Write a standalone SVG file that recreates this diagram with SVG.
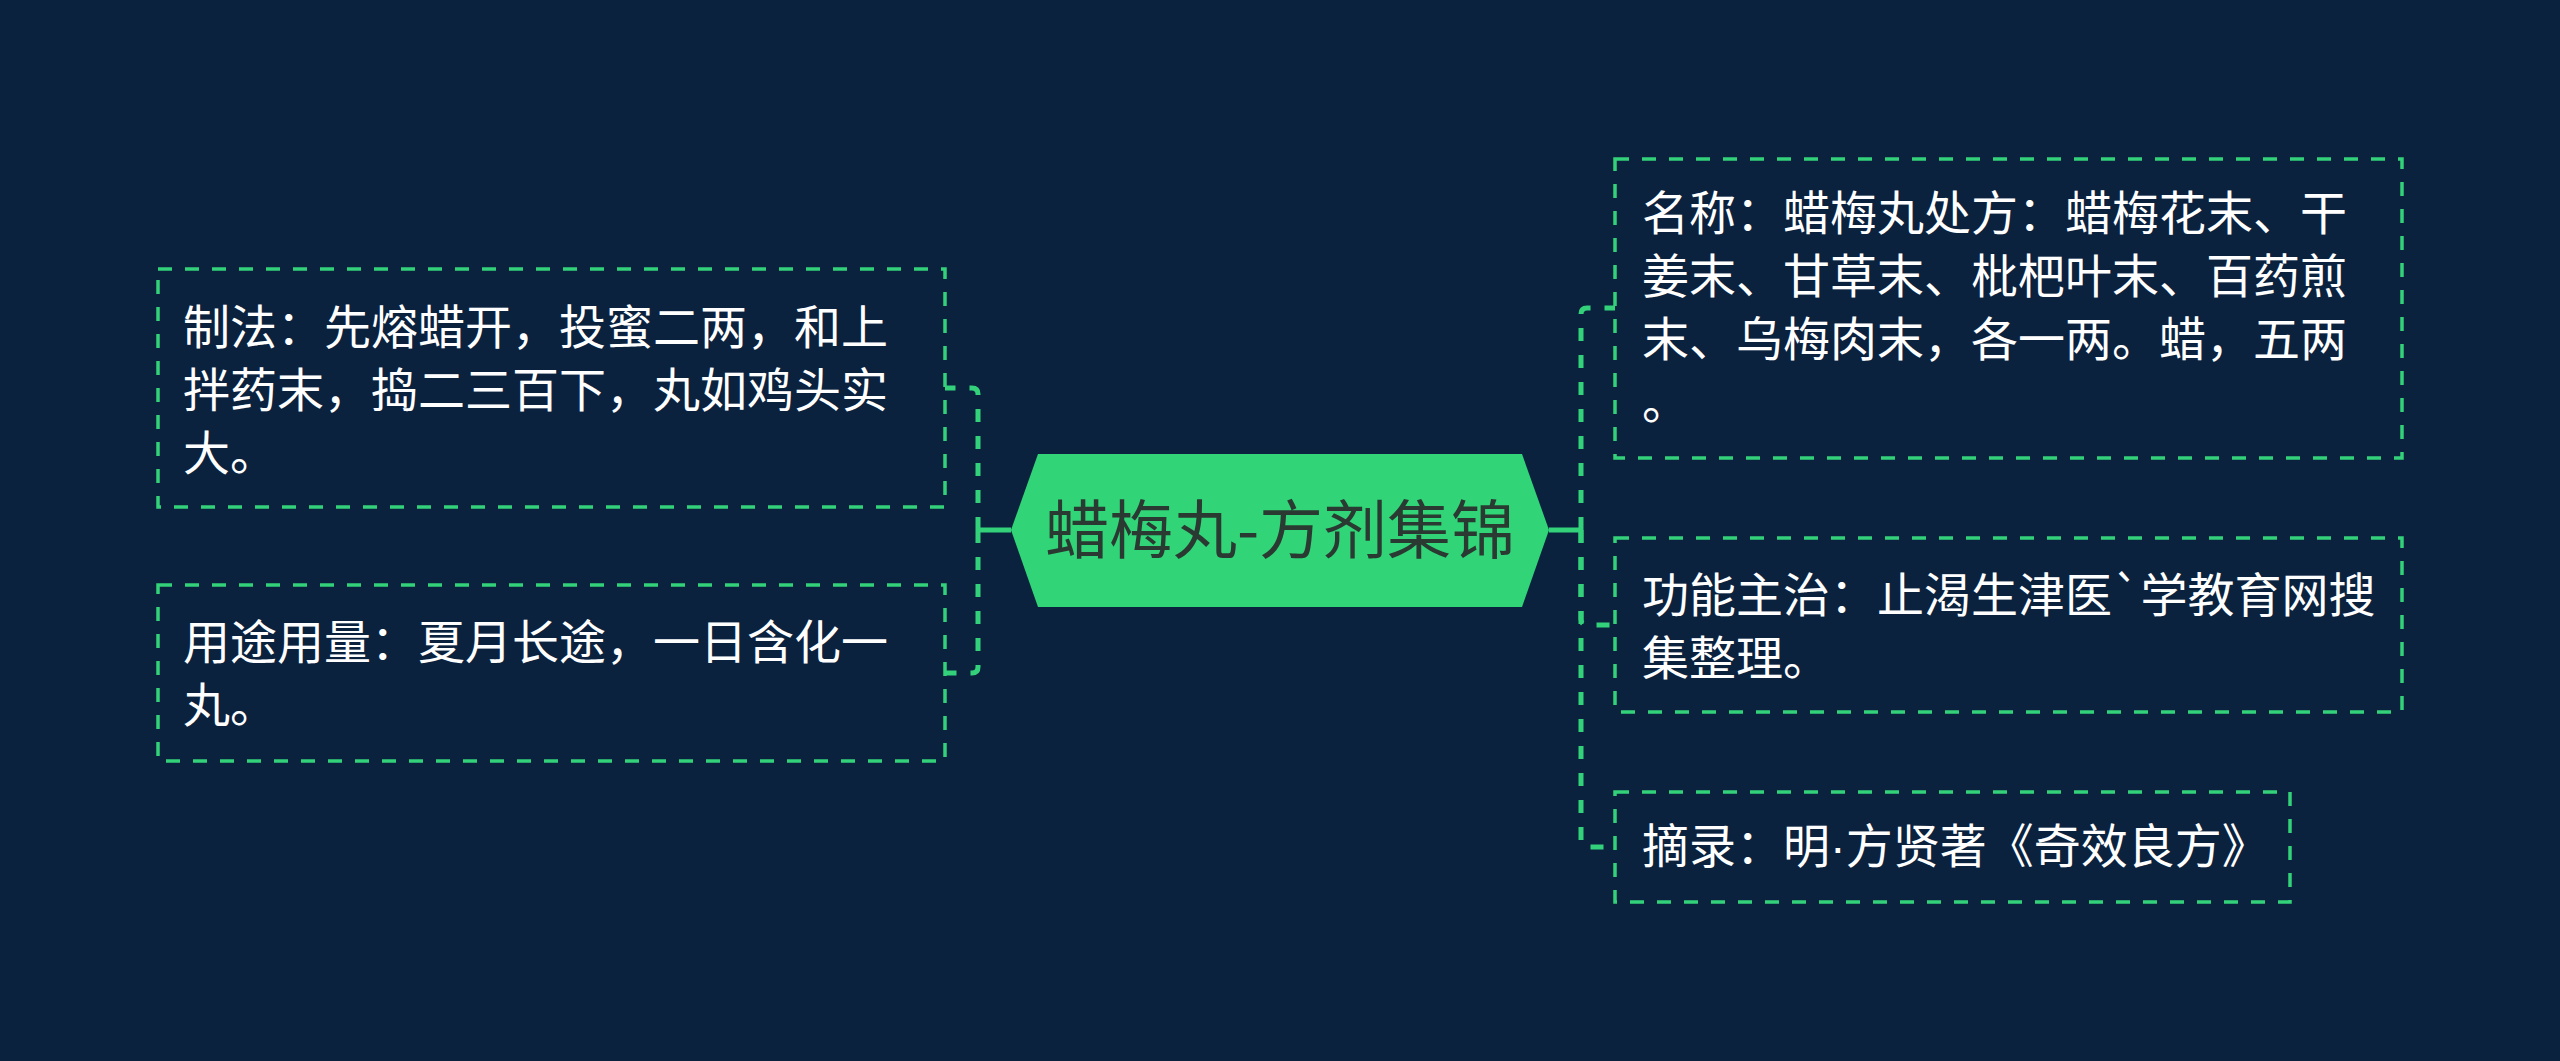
<svg xmlns="http://www.w3.org/2000/svg" width="2560" height="1061" viewBox="0 0 2560 1061">
<style>
.bg{fill:#0b223f}
.box{fill:none;stroke:#33d27a;stroke-width:3.5;stroke-dasharray:14 13}
.conn{fill:none;stroke:#33d27a;stroke-width:5;stroke-dasharray:13 14}
.solid{fill:none;stroke:#33d27a;stroke-width:5}
.t{font-family:"Noto Sans CJK SC","Noto Sans",sans-serif;font-size:47px;fill:#ffffff}
.ct{font-family:"Noto Sans CJK SC","Noto Sans",sans-serif;font-size:64px;fill:#2a3a32}
.nd{font-family:"Liberation Sans",sans-serif}
</style>
<rect class="bg" x="0" y="0" width="2560" height="1061"/>
<g id="connectors">
<path class="solid" d="M1011 530 H978"/>
<path class="conn" d="M978 530 V394 Q978 388 972 388 H945"/>
<path class="conn" d="M978 530 V667 Q978 673 972 673 H945"/>
<path class="solid" d="M1549 530 H1581"/>
<path class="conn" d="M1581 530 V314 Q1581 308 1587 308 H1615"/>
<path class="conn" d="M1581 530 V619 Q1581 625 1587 625 H1615"/>
<path class="conn" d="M1581 530 V841 Q1581 847 1587 847 H1615"/>
</g>
<g id="center">
<polygon points="1011,530 1038,454 1522,454 1549,530 1522,607 1038,607" fill="#31d578"/>
<text class="ct" x="1280" y="553" text-anchor="middle">蜡梅丸-方剂集锦</text>
</g>
<g id="node-zhifa">
<rect class="box" x="158" y="269" width="787" height="238"/>
<text class="t" x="183" y="344">制法：先熔蜡开，投蜜二两，和上</text>
<text class="t" x="183" y="407">拌药末，捣二三百下，丸如鸡头实</text>
<text class="t" x="183" y="470">大。</text>
</g>
<g id="node-yongtu">
<rect class="box" x="158" y="585" width="787" height="176"/>
<text class="t" x="183" y="659">用途用量：夏月长途，一日含化一</text>
<text class="t" x="183" y="722">丸。</text>
</g>
<g id="node-mingcheng">
<rect class="box" x="1615" y="159" width="787" height="299"/>
<text class="t" x="1642" y="230">名称：蜡梅丸处方：蜡梅花末、干</text>
<text class="t" x="1642" y="293">姜末、甘草末、枇杷叶末、百药煎</text>
<text class="t" x="1642" y="356">末、乌梅肉末，各一两。蜡，五两</text>
<text class="t" x="1642" y="419">。</text>
</g>
<g id="node-gongneng">
<rect class="box" x="1615" y="538" width="787" height="174"/>
<text class="t" x="1642" y="612">功能主治：止渴生津医`学教育网搜</text>
<text class="t" x="1642" y="675">集整理。</text>
</g>
<g id="node-zhailu">
<rect class="box" x="1615" y="792" width="675" height="110"/>
<text class="t" x="1642" y="863">摘录：明<tspan class="nd">·</tspan>方贤著《奇效良方》</text>
</g>
</svg>
